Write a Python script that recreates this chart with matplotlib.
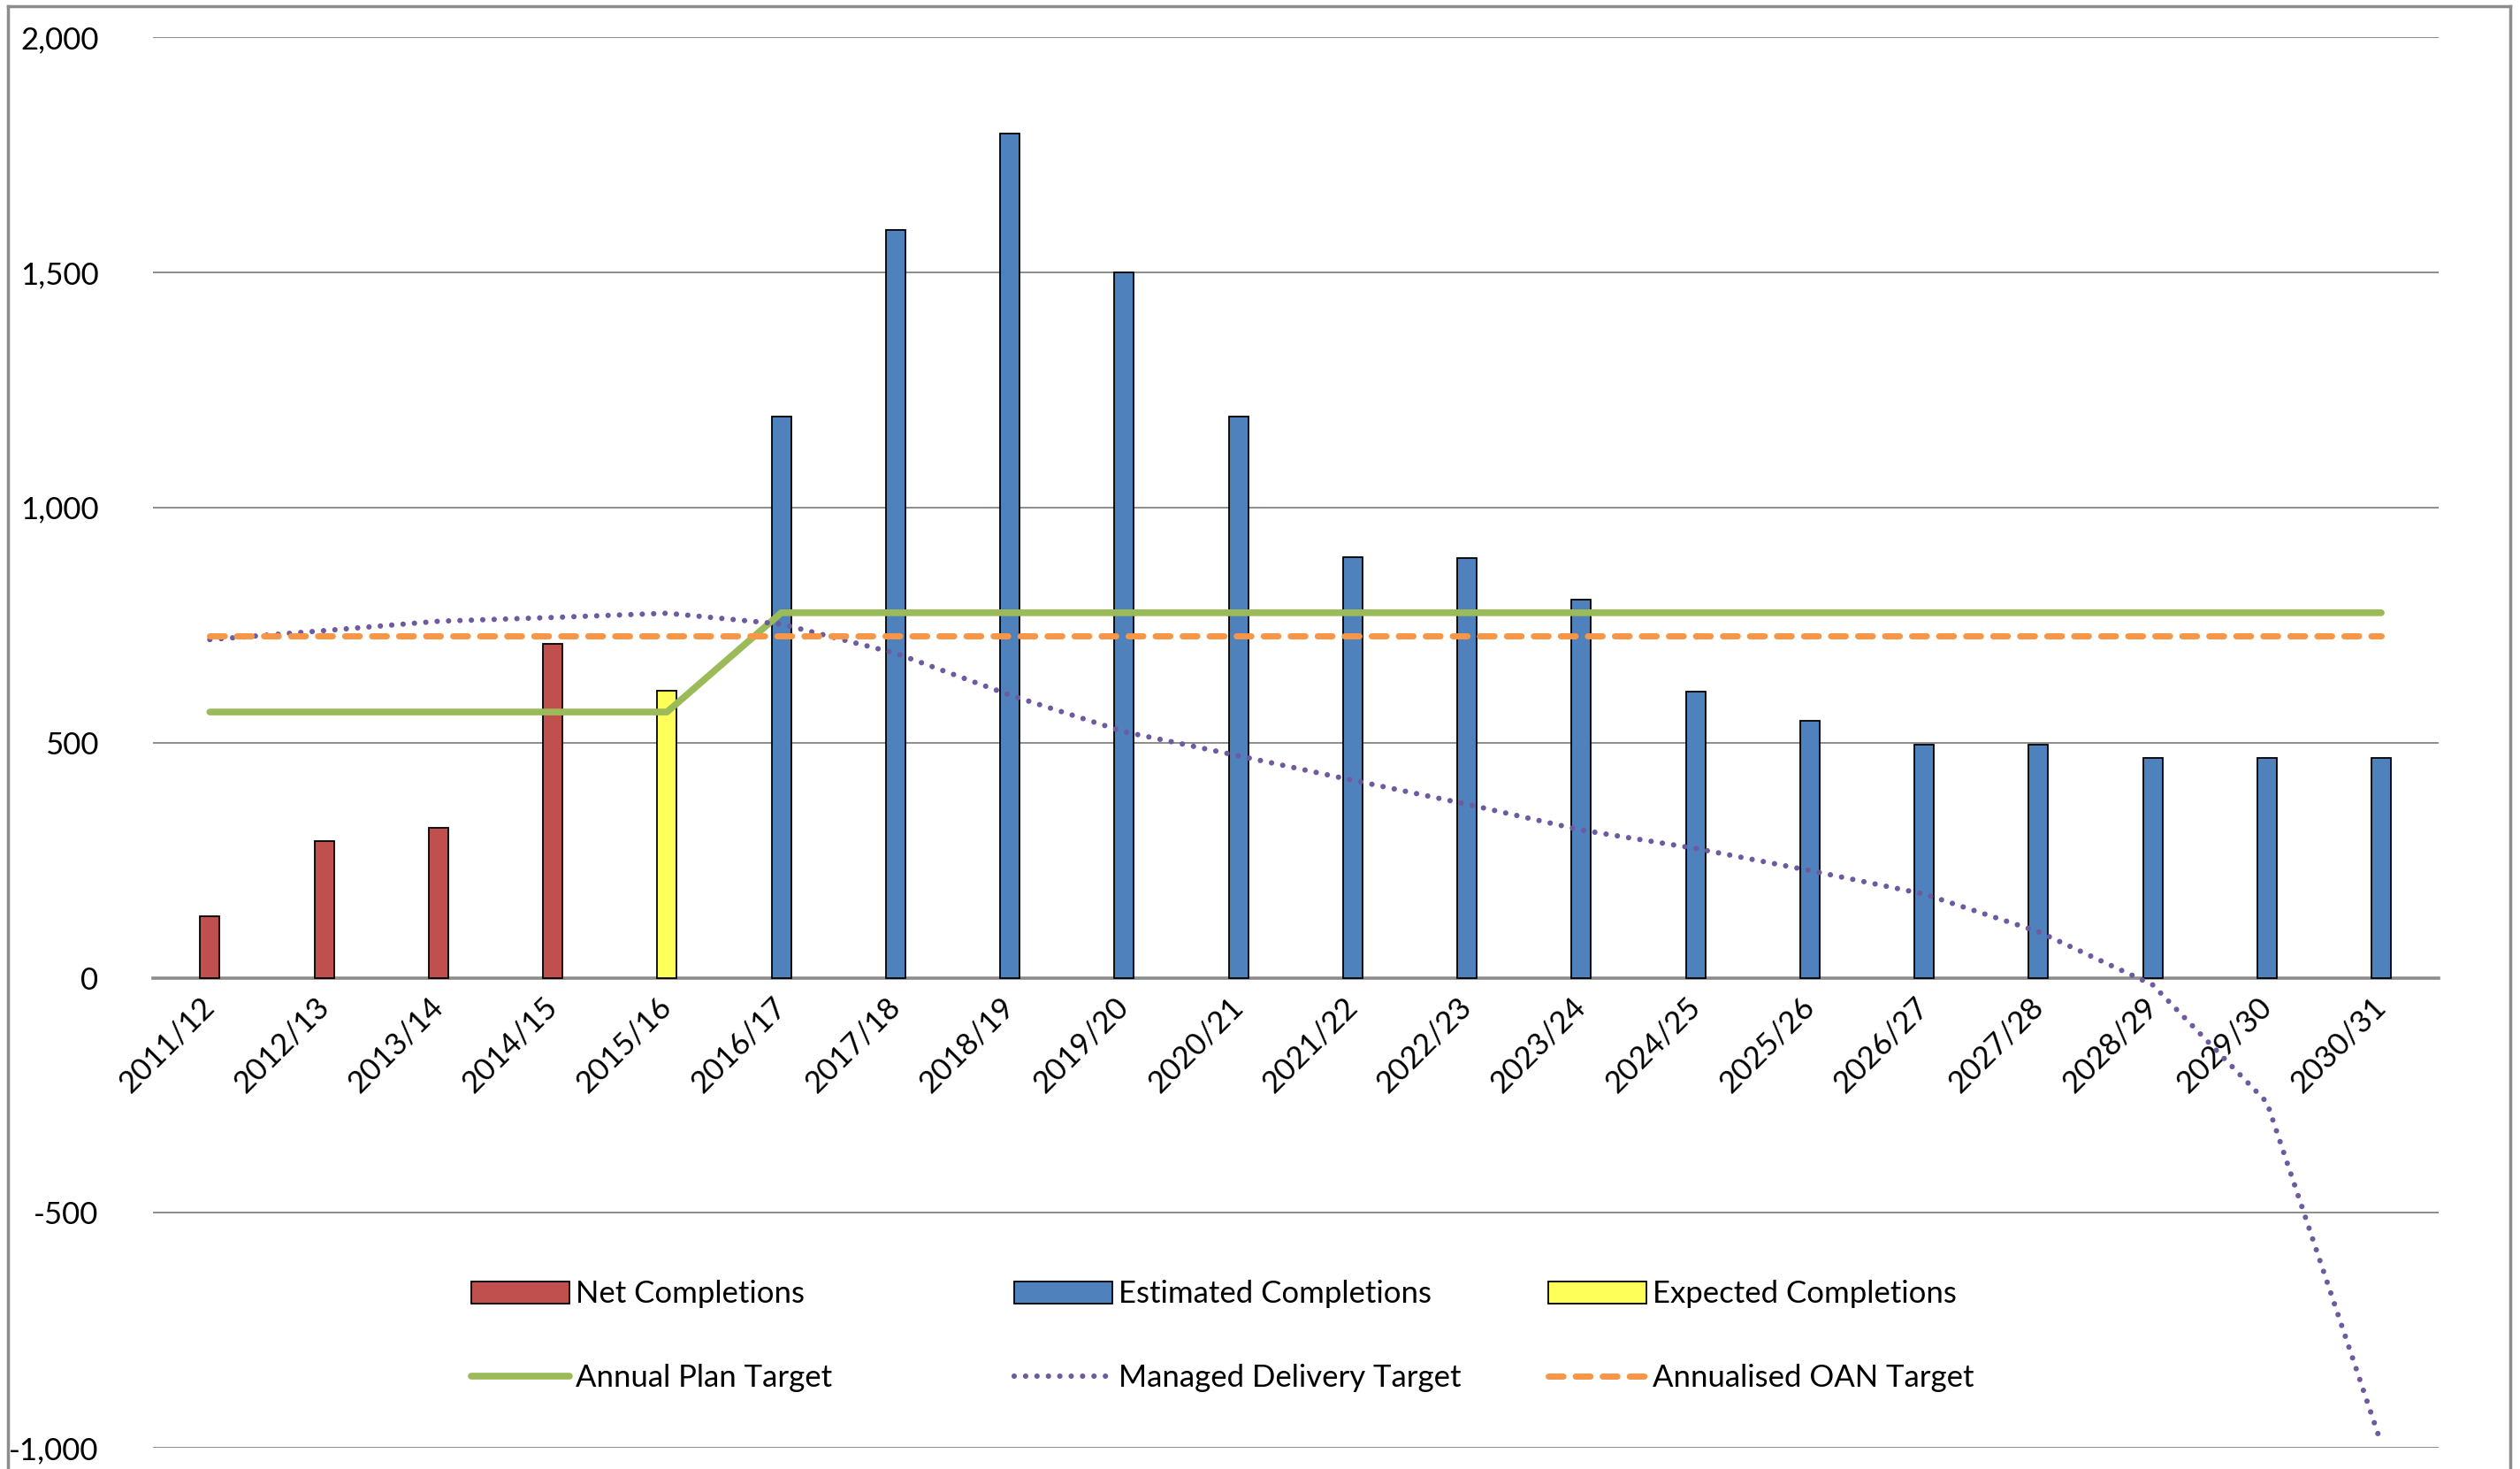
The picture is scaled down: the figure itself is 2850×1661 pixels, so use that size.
"""
Housing completions against plan / OAN / managed delivery targets
"""

import matplotlib
matplotlib.use('Agg')
import matplotlib.pyplot as plt
from matplotlib.lines import Line2D
from matplotlib.patches import Patch
from matplotlib.ticker import FuncFormatter

plt.rcParams['font.family'] = ['Lato', 'DejaVu Sans']

# categories
years = ['2011/12', '2012/13', '2013/14', '2014/15', '2015/16', '2016/17',
         '2017/18', '2018/19', '2019/20', '2020/21', '2021/22', '2022/23',
         '2023/24', '2024/25', '2025/26', '2026/27', '2027/28', '2028/29',
         '2029/30', '2030/31']

# bar series (each sits on its own run of years)
net_years = ['2011/12', '2012/13', '2013/14', '2014/15']
net_completions = [130, 290, 318, 710]

expected_years = ['2015/16']
expected_completions = [610]

estimated_years = ['2016/17', '2017/18', '2018/19', '2019/20', '2020/21',
                   '2021/22', '2022/23', '2023/24', '2024/25', '2025/26',
                   '2026/27', '2027/28', '2028/29', '2029/30', '2030/31']
estimated_completions = [1193, 1590, 1795, 1500, 1193, 895, 893, 803, 608,
                         546, 496, 496, 467, 467, 467]

# line series
annual_plan_target = [565, 565, 565, 565, 565, 776, 776, 776, 776, 776,
                      776, 776, 776, 776, 776, 776, 776, 776, 776, 776]
managed_delivery_target = [719, 738, 758, 766, 775, 752, 690, 601, 523, 472,
                           420, 369, 314, 275, 228, 178, 98, -15, -265, -990]
oan_target = [726, 726, 726, 726, 726, 726, 726, 726, 726, 726,
              726, 726, 726, 726, 726, 726, 726, 726, 726, 726]

# colours
red = '#C0504D'
blue = '#4F81BD'
yellow = '#FFFF5A'
green = '#9BBB59'
purple = '#6E5A9E'
orange = '#F79646'
grid_grey = '#8C8C8C'

fs = 25
dotted = (0, (0.01, 2.1))

fig = plt.figure(figsize=(28.5, 16.61), dpi=100)
ax = fig.add_axes([0.0606, 0.0142, 0.907, 0.9606])

pos = {y: i for i, y in enumerate(years)}
bw = 0.17
bar_kw = dict(width=bw, edgecolor='black', linewidth=1.3, zorder=3)
ax.bar([pos[y] for y in net_years], net_completions, color=red, **bar_kw)
ax.bar([pos[y] for y in estimated_years], estimated_completions, color=blue, **bar_kw)
ax.bar([pos[y] for y in expected_years], expected_completions, color=yellow, **bar_kw)

x = list(range(len(years)))
ax.plot(x, annual_plan_target, color=green, lw=5.5, solid_capstyle='round',
        solid_joinstyle='round', zorder=4)
ax.plot(x, managed_delivery_target, color=purple, lw=4.4,
        linestyle=dotted, dash_capstyle='round', zorder=5)
ax.plot(x, oan_target, color=orange, lw=5, linestyle=(0, (2.4, 2.0)),
        dash_capstyle='round', zorder=6)

ax.set_xlim(-0.5, len(years) - 0.5)
ax.set_ylim(-1000, 2000)
ax.set_yticks(range(-1000, 2001, 500))
ax.yaxis.set_major_formatter(FuncFormatter(lambda v, p: f'{int(v):,}'))
ax.grid(axis='y', color=grid_grey, lw=1.4, zorder=0)
ax.set_axisbelow(True)

for s in ['top', 'right', 'left']:
    ax.spines[s].set_visible(False)
ax.spines['bottom'].set_position(('data', 0))
ax.spines['bottom'].set_color(grid_grey)
ax.spines['bottom'].set_linewidth(2.6)
ax.spines['bottom'].set_zorder(2)

ax.set_xticks(x)
ax.set_xticklabels(years, rotation=45, ha='right', va='center',
                   rotation_mode='anchor', fontsize=fs)
ax.tick_params(axis='x', length=0, pad=20)
ax.tick_params(axis='y', length=0, pad=44, labelsize=fs)

# legend: three columns of two rows, placed like the original
h = dict(handlelength=3.2, handleheight=0.75, handletextpad=0.2,
         labelspacing=1.8, borderpad=0, frameon=False, fontsize=fs,
         loc='center left', bbox_transform=fig.transFigure)
cols = [
    ([Patch(facecolor=red, edgecolor='black', lw=1.3),
      Line2D([], [], color=green, lw=5.5, solid_capstyle='round')],
     ['Net Completions', 'Annual Plan Target'], 0.181),
    ([Patch(facecolor=blue, edgecolor='black', lw=1.3),
      Line2D([], [], color=purple, lw=4.4, linestyle=dotted,
             dash_capstyle='round')],
     ['Estimated Completions', 'Managed Delivery Target'], 0.3965),
    ([Patch(facecolor=yellow, edgecolor='black', lw=1.3),
      Line2D([], [], color=orange, lw=5, linestyle=(0, (2.4, 2.0)),
             dash_capstyle='round')],
     ['Expected Completions', 'Annualised OAN Target'], 0.6082),
]
for handles, labels, lx in cols:
    leg = fig.legend(handles, labels, bbox_to_anchor=(lx, 0.0905), **h)

# chart frame (bottom edge is cropped off in the original)
frame_kw = dict(color=grid_grey, lw=2.5, transform=fig.transFigure)
fig.add_artist(Line2D([0.0032, 0.0032], [0.0, 0.9956], **frame_kw))
fig.add_artist(Line2D([0.0032, 0.9962], [0.9956, 0.9956], **frame_kw))
fig.add_artist(Line2D([0.9962, 0.9962], [0.0, 0.9956], **frame_kw))

fig.savefig('out.png', dpi=100)
